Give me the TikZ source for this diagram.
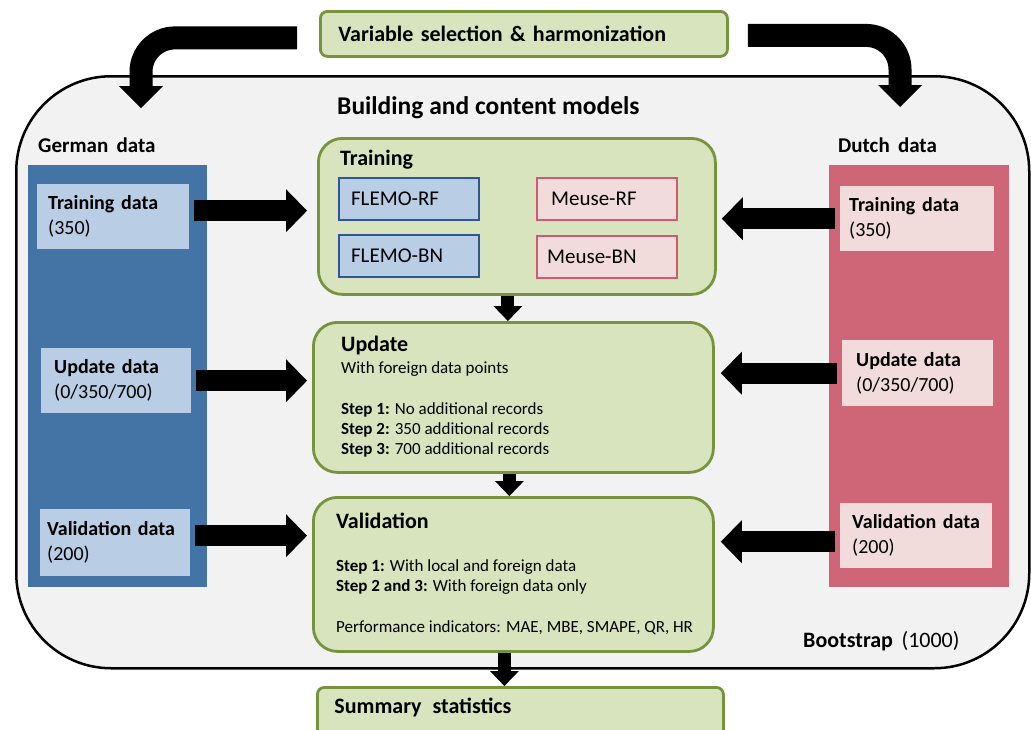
\documentclass[tikz,border=0pt]{standalone}
\usepackage{fontspec}
\setmainfont{Carlito}
\usetikzlibrary{arrows.meta,positioning}

\definecolor{bgfill}{HTML}{F2F2F2}
\definecolor{grnfill}{HTML}{D7E4BD}
\definecolor{grnline}{HTML}{77933C}
\definecolor{colblue}{HTML}{4473A6}
\definecolor{ltblue}{HTML}{B9CDE5}
\definecolor{dkblue}{HTML}{2F5597}
\definecolor{colred}{HTML}{CF6677}
\definecolor{ltpink}{HTML}{F2DCDB}
\definecolor{pinkline}{HTML}{D05A72}

\begin{document}
\begin{tikzpicture}[x=1pt,y=-1pt,
  loopbox/.style={rectangle, rounded corners=95pt, draw=black, fill=bgfill,
                  line width=2.5pt, anchor=north west},
  grnbox/.style={rectangle, rounded corners=24pt, draw=grnline, fill=grnfill,
                 line width=2.8pt, anchor=north west},
  flatbox/.style={rectangle, rounded corners=7pt, draw=grnline, fill=grnfill,
                  line width=2.8pt, anchor=north west, align=left,
                  font=\fontsize{22}{26}\selectfont\bfseries},
  column/.style={rectangle, anchor=north west, inner sep=0pt},
  databox/.style={rectangle, anchor=north west, align=left, inner xsep=11pt,
                  text width=130pt, minimum height=65pt,
                  font=\fontsize{20}{25}\selectfont},
  mdl/.style={rectangle, anchor=north west, line width=2.2pt, inner xsep=12pt,
              text width=116pt, minimum height=42pt, align=left,
              font=\fontsize{21}{25}\selectfont},
  flemo/.style={mdl, draw=dkblue, fill=ltblue},
  meuse/.style={mdl, draw=pinkline, fill=ltpink},
  txt/.style={anchor=base west, inner sep=0pt, align=left},
  hd/.style={txt, font=\fontsize{22}{26}\selectfont\bfseries},
  body/.style={txt, font=\fontsize{17}{20}\selectfont},
  bigarr/.style={line width=21pt, -{Triangle[length=21pt,width=43pt,line width=0pt]}},
  smallarr/.style={line width=13pt, -{Triangle[length=15pt,width=29pt,line width=0pt]}},
  bendarr/.style={line width=23pt, rounded corners=34pt,
                  -{Triangle[length=22pt,width=44pt,line width=0pt]}},
]
\clip (0,0) rectangle (1031,729);
\fill[white] (0,0) rectangle (1031,729);

% bootstrap loop
\node[loopbox, minimum width=1013pt, minimum height=592pt] (loop) at (15,75) {};
\node[txt, font=\fontsize{22}{26}\selectfont] (boot) at (803,647)
     {\textbf{Bootstrap}\ \,(1000)};
\node[txt, font=\fontsize{25.5}{30}\selectfont\bfseries] (bcm) at (337,114)
     {Building and content models};

% top and bottom
\node[flatbox, text width=371pt, inner xsep=18pt, minimum height=45pt] (vsel)
     at (319,10) {Variable selection \& harmonization};
\node[flatbox, text width=372pt, inner xsep=17pt, minimum height=52pt,
      text depth=16pt] (summ) at (316,686) {Summary\ \,statistics};

% German side
\node[txt, font=\fontsize{21}{25}\selectfont\bfseries] (ger) at (38,152) {German\ \,data};
\node[column, fill=colblue, minimum width=179pt, minimum height=422pt] (gcol) at (28,165) {};
\node[databox, fill=ltblue] (gtrain) at (37,184) {\textbf{Training data}\\(350)};
\node[databox, fill=ltblue, inner xsep=13pt, text width=124pt] (gupd) at (41,348)
     {\textbf{Update data}\\(0/350/700)};
\node[databox, fill=ltblue, inner xsep=7pt, text width=136pt, minimum height=67pt] (gval)
     at (40,509) {\textbf{Validation data}\\(200)};

% Dutch side
\node[txt, font=\fontsize{21}{25}\selectfont\bfseries] (dut) at (838,152) {Dutch\ \,data};
\node[column, fill=colred, minimum width=180pt, minimum height=422pt] (dcol) at (829,165) {};
\node[databox, fill=ltpink, inner xsep=9pt, text width=136pt] (dtrain) at (840,186)
     {\textbf{Training data}\\(350)};
\node[databox, fill=ltpink, inner xsep=14pt, text width=123pt, minimum height=66pt] (dupd)
     at (842,340) {\textbf{Update data}\\(0/350/700)};
\node[databox, fill=ltpink, inner xsep=12pt, text width=128pt] (dval) at (840,503)
     {\textbf{Validation data}\\(200)};

% training
\node[grnbox, minimum width=397pt, minimum height=156pt] (train) at (317,137) {};
\node[hd] (trainhd) at (340,165) {Training};
\node[flemo] (frf) at (338,177) {FLEMO-RF};
\node[flemo] (fbn) at (338,234) {FLEMO-BN};
\node[meuse, inner xsep=14pt, text width=112pt] (mrf) at (536,177) {Meuse-RF};
\node[meuse, inner xsep=10pt, text width=120pt] (mbn) at (536,235) {Meuse-BN};

% update (base = last line)
\node[grnbox, minimum width=400pt, minimum height=150pt] (upd) at (312,321) {};
\node[hd] (updhd) at (341,351) {Update};
\node[body] (updtxt) at (341,454)
     {With foreign data points\\[21pt]
      \textbf{Step 1:} No additional records\\
      \textbf{Step 2:} 350 additional records\\
      \textbf{Step 3:} 700 additional records};

% validation
\node[grnbox, minimum width=400pt, minimum height=154pt] (val) at (312,496) {};
\node[hd] (valhd) at (336,528) {Validation};
\node[body] (valtxt) at (336,632)
     {\textbf{Step 1:} With local and foreign data\\
      \textbf{Step 2 and 3:} With foreign data only\\[21pt]
      Performance indicators: MAE, MBE, SMAPE, QR, HR};

% arrows
\coordinate (gtip) at (141,108);
\coordinate (dtip) at (900,107);
\draw[bendarr] ([xshift=-22pt,yshift=-4pt]vsel.west) -| (gtip);
\draw[bendarr] ([xshift=19pt,yshift=-1.5pt]vsel.east) -| (dtip);

\draw[bigarr, shorten <=5pt, shorten >=10pt] ([yshift=6pt]gtrain.east) -- ([yshift=6pt]gtrain.east -| train.west);
\draw[bigarr, shorten <=5pt, shorten >=5pt] (gupd.east) -- (gupd.east -| upd.west);
\draw[bigarr, shorten <=5pt, shorten >=5pt] ([yshift=7pt]gval.east) -- ([yshift=7pt]gval.east -| val.west);
\draw[bigarr, shorten <=5pt, shorten >=5pt] (dtrain.west) -- (dtrain.west -| train.east);
\draw[bigarr, shorten <=5pt, shorten >=6pt] (dupd.west) -- (dupd.west -| upd.east);
\draw[bigarr, shorten <=5pt, shorten >=6pt] ([yshift=-6pt]dval.west) -- ([yshift=-6pt]dval.west -| val.east);

\draw[smallarr] ([xshift=-9pt]train.south) -- ([xshift=-9pt]train.south |- upd.north);
\draw[smallarr] ([xshift=-4pt]upd.south) -- ([xshift=-4pt]upd.south |- val.north);
\draw[smallarr] ([xshift=-9pt]val.south) -- ([xshift=-9pt]val.south |- summ.north);
\end{tikzpicture}
\end{document}
